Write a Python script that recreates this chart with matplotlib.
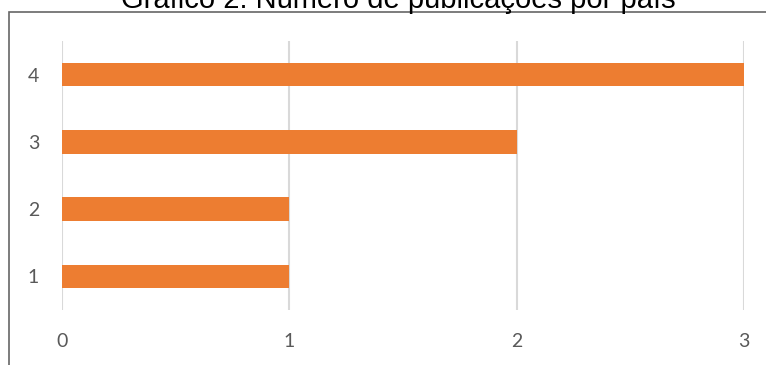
import matplotlib
matplotlib.use("Agg")
import matplotlib.pyplot as plt
from matplotlib.patches import Rectangle

categories = ["1", "2", "3", "4"]
values = [1, 1, 2, 3]
xticks = [0, 1, 2, 3]
title = "Gráfico 2: Número de publicações por país"

W, H = 766, 365
fig = plt.figure(figsize=(W / 100, H / 100), dpi=100)
fig.patch.set_facecolor("white")

# outer frame (cut off at right and bottom)
fig.patches.append(Rectangle((8.5 / W, -0.1), 1.2, 1 - 12 / H + 0.1,
                             transform=fig.transFigure, fill=False,
                             edgecolor="#666666", linewidth=1.2, clip_on=False))

fig.text(398 / W, 1 - 7.5 / H, title, ha="center", va="baseline",
         fontsize=21, family="Liberation Sans", color="black")

ax = fig.add_axes([62 / W, 1 - 310 / H, 682 / W, 269 / H])
pos = list(range(1, len(categories) + 1))
ax.barh(pos, values, height=0.35, color="#ED7D31", zorder=3)
ax.set_xlim(0, 3)
ax.set_ylim(0.5, 4.5)
ax.set_xticks(xticks)
ax.set_xticklabels([str(t) for t in xticks])
ax.set_yticks(pos)
ax.set_yticklabels(categories)
ax.grid(axis="x", color="#d9d9d9", linewidth=1.5, zorder=0)
ax.set_axisbelow(True)
for s in ax.spines.values():
    s.set_visible(False)
ax.tick_params(length=0, labelsize=14, labelcolor="#595959")
ax.tick_params(axis="x", pad=16.5)
ax.tick_params(axis="y", pad=16.5)
for lab in ax.get_xticklabels() + ax.get_yticklabels():
    lab.set_family("Lato")
ax.set_facecolor("none")

fig.savefig("out.png", dpi=100)
